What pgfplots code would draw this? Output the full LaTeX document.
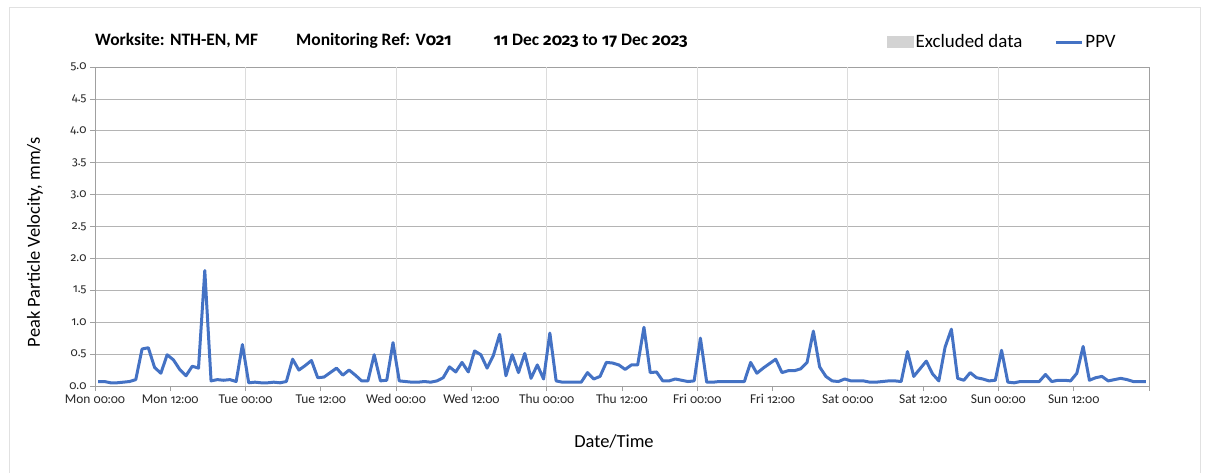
\documentclass[border=0pt]{standalone}
\usepackage{fontspec}
\setmainfont{Carlito}
\newfontfamily\numfont{Fira Sans}[Numbers=OldStyle, Scale=0.88]
\newfontfamily\numfontT{Fira Sans}[Numbers=OldStyle, Scale=0.95]
\usepackage{pgfplots}
\usepackage{pgfplotstable}
\pgfplotsset{compat=1.18}
\definecolor{ppv}{RGB}{68,114,196}
\definecolor{hgrid}{RGB}{180,180,180}
\definecolor{vgrid}{RGB}{220,220,220}
\definecolor{axgray}{RGB}{160,160,160}
\definecolor{excl}{RGB}{211,211,211}
\definecolor{frame}{RGB}{225,225,225}
\newcommand{\n}[1]{{\numfont #1}}
\newcommand{\nt}[1]{{\numfontT #1}}

\pgfplotstableread{
t v
0.5 0.07
1.5 0.07
2.5 0.05
3.5 0.05
4.5 0.06
5.5 0.07
6.5 0.10
7.5 0.58
8.5 0.60
9.5 0.29
10.5 0.20
11.5 0.49
12.5 0.41
13.5 0.26
14.5 0.16
15.5 0.31
16.5 0.28
17.5 1.81
18.5 0.08
19.5 0.10
20.5 0.09
21.5 0.10
22.5 0.07
23.5 0.65
24.5 0.05
25.5 0.06
26.5 0.05
27.5 0.05
28.5 0.06
29.5 0.05
30.5 0.07
31.5 0.42
32.5 0.25
33.5 0.32
34.5 0.40
35.5 0.13
36.5 0.14
37.5 0.21
38.5 0.28
39.5 0.17
40.5 0.25
41.5 0.17
42.5 0.08
43.5 0.08
44.5 0.49
45.5 0.08
46.5 0.09
47.5 0.68
48.5 0.08
49.5 0.07
50.5 0.06
51.5 0.06
52.5 0.07
53.5 0.06
54.5 0.08
55.5 0.13
56.5 0.30
57.5 0.22
58.5 0.37
59.5 0.22
60.5 0.55
61.5 0.49
62.5 0.28
63.5 0.48
64.5 0.81
65.5 0.16
66.5 0.49
67.5 0.21
68.5 0.51
69.5 0.12
70.5 0.33
71.5 0.11
72.5 0.83
73.5 0.08
74.5 0.06
75.5 0.06
76.5 0.06
77.5 0.06
78.5 0.21
79.5 0.11
80.5 0.15
81.5 0.37
82.5 0.36
83.5 0.33
84.5 0.26
85.5 0.33
86.5 0.33
87.5 0.92
88.5 0.21
89.5 0.22
90.5 0.08
91.5 0.08
92.5 0.11
93.5 0.09
94.5 0.07
95.5 0.08
96.5 0.75
97.5 0.06
98.5 0.06
99.5 0.07
100.5 0.07
101.5 0.07
102.5 0.07
103.5 0.07
104.5 0.37
105.5 0.20
106.5 0.28
107.5 0.35
108.5 0.42
109.5 0.21
110.5 0.24
111.5 0.24
112.5 0.27
113.5 0.37
114.5 0.86
115.5 0.30
116.5 0.15
117.5 0.08
118.5 0.07
119.5 0.11
120.5 0.08
121.5 0.08
122.5 0.08
123.5 0.06
124.5 0.06
125.5 0.07
126.5 0.08
127.5 0.08
128.5 0.07
129.5 0.54
130.5 0.15
131.5 0.27
132.5 0.39
133.5 0.19
134.5 0.08
135.5 0.61
136.5 0.89
137.5 0.12
138.5 0.09
139.5 0.21
140.5 0.13
141.5 0.11
142.5 0.08
143.5 0.09
144.5 0.56
145.5 0.06
146.5 0.05
147.5 0.07
148.5 0.07
149.5 0.07
150.5 0.07
151.5 0.18
152.5 0.07
153.5 0.09
154.5 0.09
155.5 0.08
156.5 0.20
157.5 0.62
158.5 0.09
159.5 0.13
160.5 0.15
161.5 0.08
162.5 0.10
163.5 0.12
164.5 0.10
165.5 0.07
166.5 0.07
167.5 0.07
}\ppvdata

\begin{document}
\begin{tikzpicture}
\useasboundingbox (-95bp,-87bp) rectangle (1113bp,386bp);
\draw[frame, line width=1bp] (-85bp,-90bp) -- (-85bp,378bp) -- (1105bp,378bp) -- (1105bp,-90bp);
\begin{axis}[
  at={(0,0)}, anchor=south west,
  scale only axis, width=1054bp, height=319bp,
  xmin=0, xmax=168, ymin=0, ymax=5,
  xtick={0,12,...,168},
  xticklabels={Mon \n{00:00},Mon \n{12:00},Tue \n{00:00},Tue \n{12:00},Wed \n{00:00},Wed \n{12:00},Thu \n{00:00},Thu \n{12:00},Fri \n{00:00},Fri \n{12:00},Sat \n{00:00},Sat \n{12:00},Sun \n{00:00},Sun \n{12:00},{}},
  ytick={0,0.5,...,5},
  /pgf/number format/assume math mode=true,
  yticklabel style={/pgf/number format/fixed, /pgf/number format/fixed zerofill, /pgf/number format/precision=1, font=\numfont\fontsize{13.5}{16}\selectfont},
  tick label style={font=\fontsize{13.5}{16}\selectfont, text=black!85},
  tick pos=left, tick align=outside,
  major tick length=5bp,
  tick style={color=axgray, line width=0.8bp},
  axis line style={color=axgray, line width=0.8bp},
  ymajorgrids=true,
  major grid style={color=hgrid, line width=0.8bp},
  extra x ticks={24,48,72,96,120,144},
  extra x tick labels={},
  extra x tick style={xmajorgrids=true, major grid style={color=vgrid, line width=1bp}, major tick length=5bp},
  xlabel={Date/Time},
  ylabel={Peak Particle Velocity, mm/s},
  label style={font=\fontsize{18.5}{21}\selectfont},
  xlabel style={at={(rel axis cs:0.4924,-0.1724)}, anchor=center},
  ylabel style={at={(rel axis cs:-0.0569,0.451)}, anchor=center},
  legend columns=2,
  legend style={at={(rel axis cs:0.7514,1.078)}, anchor=west, draw=none, fill=none,
    font=\fontsize{19}{22}\selectfont, inner sep=0pt,
    /tikz/every even column/.append style={column sep=30bp},
    nodes={inner sep=2bp}},
]
\addlegendimage{legend image code/.code={\fill[excl] (0bp,-5.5bp) rectangle (26bp,5.5bp);}}
\addlegendentry{Excluded data}
\addplot[color=ppv, line width=3bp, line join=round, mark=none,
  legend image code/.code={\draw[ppv, line width=3bp] (0bp,0bp) -- (26bp,0bp);}]
  table[x=t, y=v] {\ppvdata};
\addlegendentry{PPV}
\end{axis}
\node[anchor=base west, inner sep=0pt, font=\bfseries\fontsize{17.5}{20}\selectfont] at (0bp,340bp)
  {Worksite: NTH-EN, MF\hspace{38bp}Monitoring Ref: V\nt{021}\hspace{42bp}\nt{11} Dec \nt{2023} to \nt{17} Dec \nt{2023}};
\end{tikzpicture}
\end{document}
